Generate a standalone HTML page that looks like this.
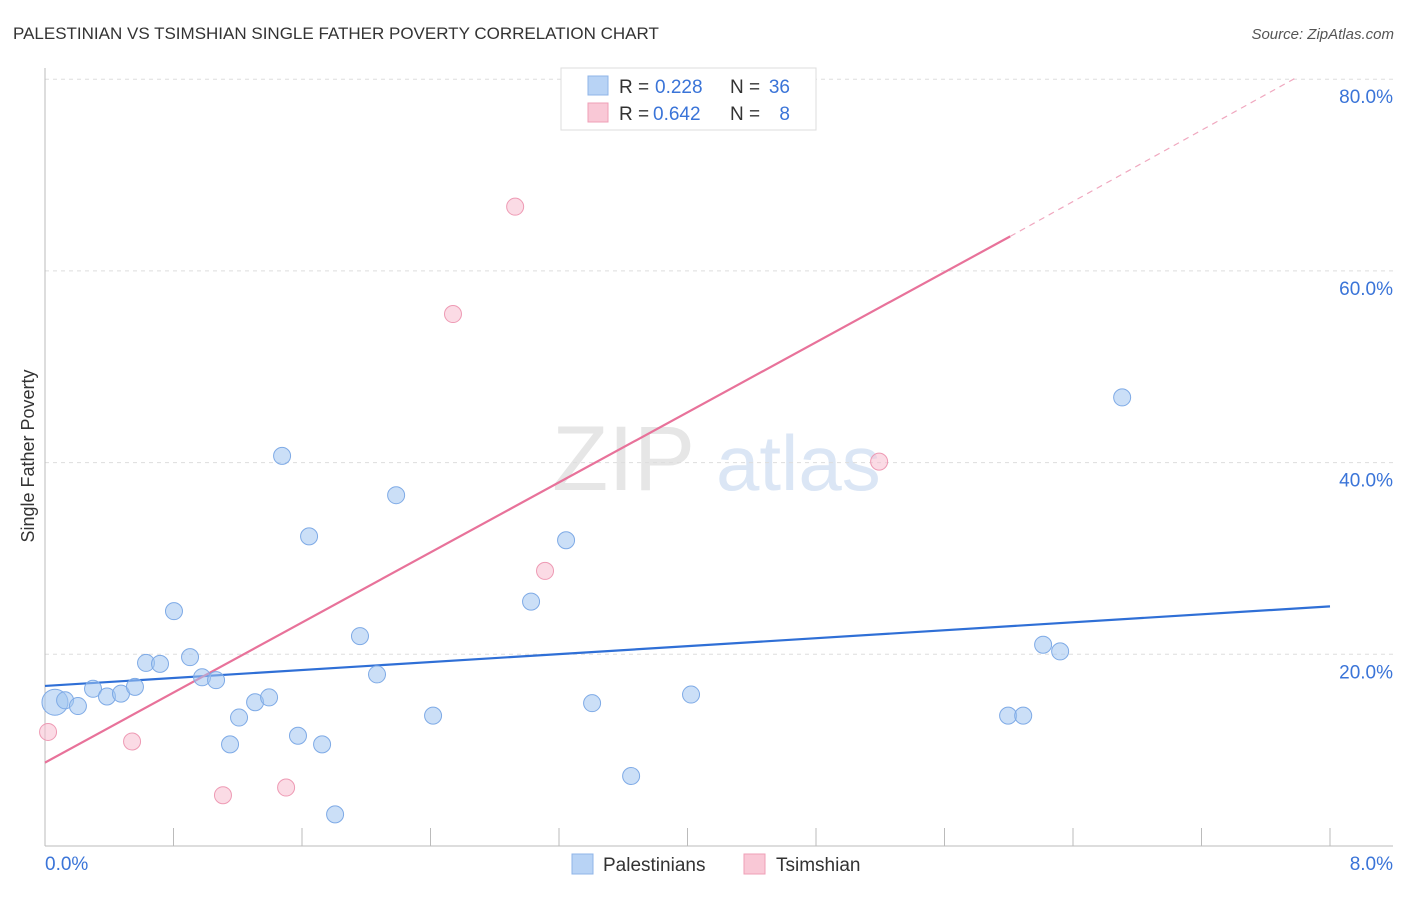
<!DOCTYPE html>
<html><head><meta charset="utf-8"><style>
body{margin:0;background:#fff;font-family:"Liberation Sans",sans-serif;}
svg text{font-family:"Liberation Sans",sans-serif;}
</style></head><body>
<svg id="chart" width="1406" height="892" viewBox="0 0 1406 892" xmlns="http://www.w3.org/2000/svg">
<text x="13" y="39" font-size="17" fill="#333">PALESTINIAN VS TSIMSHIAN SINGLE FATHER POVERTY CORRELATION CHART</text>
<text x="1394" y="39" font-size="15" fill="#555" text-anchor="end" font-style="italic">Source: ZipAtlas.com</text>
<g>
<text x="552" y="490" font-size="92" fill="#e6e6e6" font-family="Liberation Serif,serif">ZIP</text>
<text x="716" y="490" font-size="78" fill="#dbe6f5">atlas</text>
</g>
<g id="grid"></g>
<g id="axes"></g>
<g id="lines"></g>
<g id="points"></g>
<text transform="translate(34,456) rotate(-90)" font-size="18" fill="#333" text-anchor="middle">Single Father Poverty</text>
<g>
<rect x="561" y="68" width="255" height="62" fill="#fff" stroke="#ddd"/>
<rect x="588" y="76" width="20" height="19" fill="#b8d3f5" stroke="#8fb5e8"/>
<rect x="588" y="103" width="20" height="19" fill="#f9c8d6" stroke="#ef9fb7"/>
<text x="619" y="93" font-size="19" fill="#333">R =</text>
<text x="655" y="93" font-size="19" fill="#3a74d8">0.228</text>
<text x="730" y="93" font-size="19" fill="#333">N =</text>
<text x="790" y="93" font-size="19" fill="#3a74d8" text-anchor="end">36</text>
<text x="619" y="120" font-size="19" fill="#333">R =</text>
<text x="653" y="120" font-size="19" fill="#3a74d8">0.642</text>
<text x="730" y="120" font-size="19" fill="#333">N =</text>
<text x="790" y="120" font-size="19" fill="#3a74d8" text-anchor="end">8</text>
</g>
<g>
<rect x="572" y="854" width="21" height="20" fill="#b8d3f5" stroke="#8fb5e8"/>
<text x="603" y="871" font-size="19" fill="#333">Palestinians</text>
<rect x="744" y="854" width="21" height="20" fill="#f9c8d6" stroke="#ef9fb7"/>
<text x="776" y="871" font-size="19" fill="#333">Tsimshian</text>
</g>
</svg>
<script>
const xTicks=[0,0.8,1.6,2.4,3.2,4,4.8,5.6,6.4,7.2,8];
const yTicks=[20,40,60,80];
const yTickLabels=["20.0%","40.0%","60.0%","80.0%"];
const xTickLabels=["0.0%","8.0%"];
const blueX=[0.062,0.125,0.205,0.299,0.386,0.473,0.560,0.629,0.716,0.803,0.903,0.978,1.065,1.152,1.208,1.308,1.395,1.476,1.575,1.644,1.725,1.806,1.961,2.067,2.186,2.416,3.026,3.244,3.406,3.649,4.022,5.996,6.090,6.214,6.320,6.706];
const blueY=[15.0,15.2,14.6,16.4,15.6,15.9,16.6,19.1,19.0,24.5,19.7,17.6,17.3,10.6,13.4,15.0,15.5,40.7,11.5,32.3,10.6,3.3,21.9,17.9,36.6,13.6,25.5,31.9,14.9,7.3,15.8,13.6,13.6,21.0,20.3,46.8];
const pinkX=[0.019,0.542,1.108,1.501,2.540,2.927,3.113,5.193];
const pinkY=[11.9,10.9,5.3,6.1,55.5,66.7,28.7,40.1];
const blueTrend=[16.7,25.0];
const pinkTrend=[8.7,63.6,80.1];
const pinkTrendX=[0,6.009,7.783];
const NS="http://www.w3.org/2000/svg";
const X=v=>45+v*160.625, Y=v=>846-v*9.585;
function mk(parent,tag,attrs){const e=document.createElementNS(NS,tag);for(const k in attrs)e.setAttribute(k,attrs[k]);document.getElementById(parent).appendChild(e);return e;}
yTicks.forEach((t,i)=>{
 const g=mk('grid','line',{x1:45,x2:1393,y1:Y(t),y2:Y(t),stroke:'#ddd','stroke-dasharray':'4,4'});
 
 
 const l=mk('axes','text',{x:1393,y:Y(t)+24,'font-size':19,fill:'#3a74d8','text-anchor':'end'});
 l.textContent=yTickLabels[i];
 
 
});
const ax=mk('axes','line',{x1:45,x2:45,y1:68,y2:846,stroke:'#bbb'});


const bx=mk('axes','line',{x1:45,x2:1393,y1:846,y2:846,stroke:'#bbb'});


xTicks.forEach(t=>{
 const tk=mk('axes','line',{x1:X(t),x2:X(t),y1:828,y2:846,stroke:'#bbb'});
 
 
});
[[0,'start',45],[8,'end',1393]].forEach((d,i)=>{
 const l=mk('axes','text',{x:d[2],y:870,'font-size':19,fill:'#3a74d8','text-anchor':d[1]});
 l.textContent=xTickLabels[i];
 
 
});
blueX.forEach((x,i)=>{
 const c=mk('points','circle',{cx:X(x),cy:Y(blueY[i]),r:i==0?13:8.5,fill:'rgba(160,196,240,0.55)',stroke:'#7eaae6','stroke-width':1});
 
 
});
pinkX.forEach((x,i)=>{
 const c=mk('points','circle',{cx:X(x),cy:Y(pinkY[i]),r:8.5,fill:'rgba(248,190,208,0.55)',stroke:'#ee9ab4','stroke-width':1});
 
 
});
const bl=mk('lines','line',{x1:X(0),y1:Y(blueTrend[0]),x2:X(8),y2:Y(blueTrend[1]),stroke:'#2f6fd6','stroke-width':2.2});


const pl=mk('lines','line',{x1:X(pinkTrendX[0]),y1:Y(pinkTrend[0]),x2:X(pinkTrendX[1]),y2:Y(pinkTrend[1]),stroke:'#e8729a','stroke-width':2.2});


const pd=mk('lines','line',{x1:X(pinkTrendX[1]),y1:Y(pinkTrend[1]),x2:X(pinkTrendX[2]),y2:Y(pinkTrend[2]),stroke:'#f0a8bf','stroke-width':1.2,'stroke-dasharray':'6,5'});


</script>
</body></html>
